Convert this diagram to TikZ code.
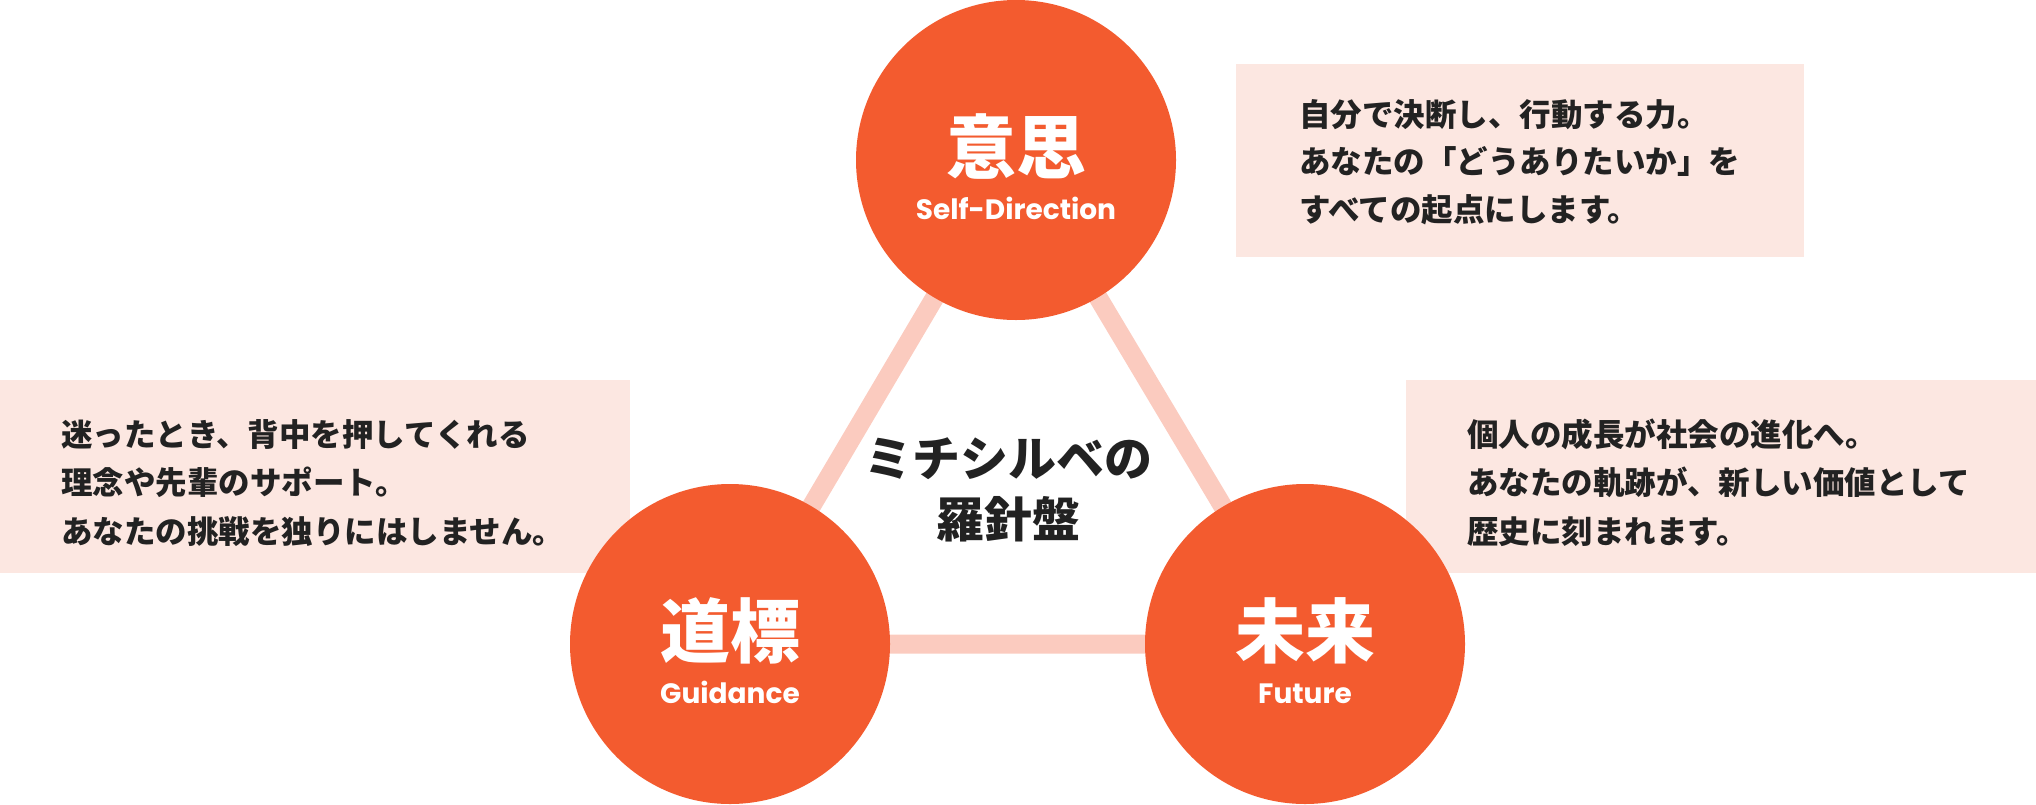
\documentclass[tikz,border=0pt]{standalone}
\usepackage{fontspec}
\newfontfamily\jp{Noto Sans CJK JP}
\newfontfamily\pop{Poppins}
\definecolor{orng}{HTML}{F35B2F}
\definecolor{pinkbox}{HTML}{FCE7E1}
\definecolor{linkc}{HTML}{FBCBBF}
\definecolor{inkc}{HTML}{222222}
\tikzset{
  circ/.style={circle, fill=orng, minimum size=320pt, inner sep=0pt, draw=none},
  linkline/.style={draw=linkc, line width=19pt},
  panel/.style={fill=pinkbox, draw=none},
  jlab/.style={inner sep=0pt, anchor=base, text=white, font=\jp\bfseries\fontsize{70pt}{70pt}\selectfont},
  elab/.style={inner sep=0pt, anchor=base, text=white, font=\pop\bfseries\fontsize{28pt}{28pt}\selectfont},
  ttl/.style={inner sep=0pt, anchor=base, text=inkc, font=\jp\bfseries\fontsize{48pt}{48pt}\selectfont},
  body/.style={inner sep=0pt, anchor=base west, text=inkc, font=\jp\bfseries\fontsize{31.5pt}{31.5pt}\selectfont},
}
\begin{document}
\begin{tikzpicture}[x=1pt, y=-1pt]
\useasboundingbox (0,0) rectangle (2036,804);
% panels
\fill[panel] (1236,64) rectangle (1804,257);
\fill[panel] (0,380) rectangle (630,573);
\fill[panel] (1406,380) rectangle (2036,573);
% centres
\coordinate (ctop) at (1016,160);
\coordinate (cbl) at (730,644);
\coordinate (cbr) at (1305,644);
\draw[linkline] (ctop) -- (cbl) -- (cbr) -- cycle;
% circles
\node[circ] (top) at (ctop) {};
\node[circ] (bl) at (cbl) {};
\node[circ] (br) at (cbr) {};
% circle labels
\node[jlab] (topj) at (1016,173) {意思};
\node[elab] (tope) at (1016,219) {Self-Direction};
\node[jlab] (blj) at (730,657) {道標};
\node[elab] (ble) at (730,703) {Guidance};
\node[jlab] (brj) at (1305,657) {未来};
\node[elab] (bre) at (1305,703) {Future};
% title
\node[ttl] (t1) at (1008,476) {ミチシルベの};
\node[ttl] (t2) at (1008,537) {羅針盤};
% texts
\node[body] (a1) at (1299,126) {自分で決断し、行動する力。};
\node[body] (a2) at (1299,173) {あなたの「どうありたいか」を};
\node[body] (a3) at (1299,221) {すべての起点にします。};
\node[body] (b1) at (61,446) {迷ったとき、背中を押してくれる};
\node[body] (b2) at (61,494) {理念や先輩のサポート。};
\node[body] (b3) at (61,543) {あなたの挑戦を独りにはしません。};
\node[body] (c1) at (1467,446) {個人の成長が社会の進化へ。};
\node[body] (c2) at (1467,494) {あなたの軌跡が、新しい価値として};
\node[body] (c3) at (1467,543) {歴史に刻まれます。};
\end{tikzpicture}
\end{document}
